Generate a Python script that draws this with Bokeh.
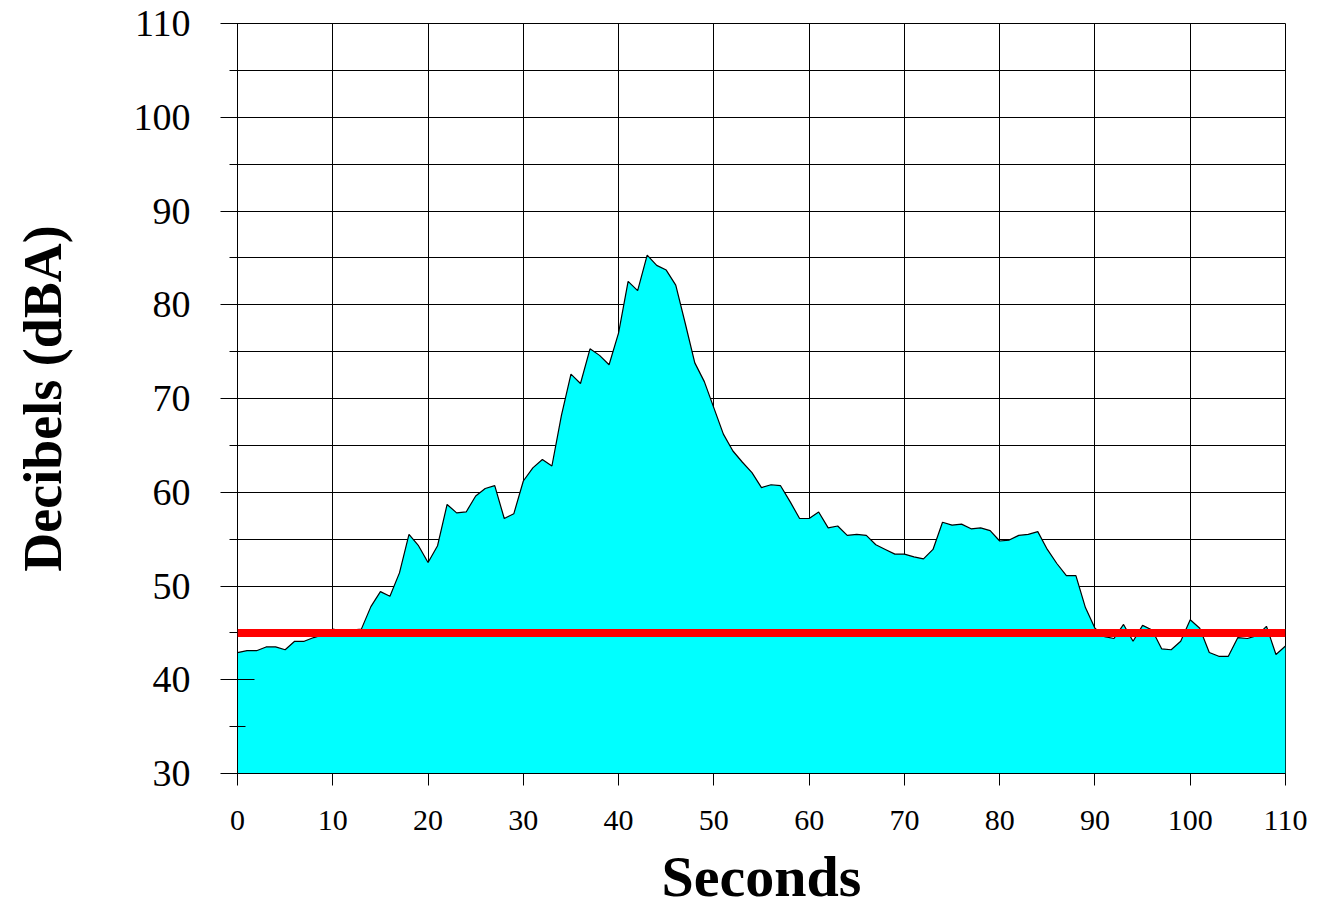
from bokeh.plotting import figure
from bokeh.models import Span, SingleIntervalTicker, FixedTicker, Range1d
from bokeh.embed import file_html
from bokeh.resources import INLINE

# ---- data ----
seconds = list(range(0, 111))
decibels = [
    42.9, 43.1, 43.1, 43.5, 43.5, 43.2, 44.1, 44.1, 44.5, 44.8,
    45.4, 45.2, 45.3, 45.4, 47.8, 49.4, 48.9, 51.4, 55.5, 54.3,
    52.5, 54.3, 58.7, 57.8, 57.9, 59.6, 60.4, 60.7, 57.2, 57.7,
    61.2, 62.6, 63.5, 62.8, 68.2, 72.6, 71.6, 75.3, 74.6, 73.6,
    77.0, 82.5, 81.5, 85.3, 84.2, 83.7, 82.1, 78.0, 73.8, 71.8,
    69.0, 66.2, 64.4, 63.2, 62.1, 60.5, 60.8, 60.7, 59.0, 57.2,
    57.2, 57.9, 56.2, 56.4, 55.4, 55.5, 55.4, 54.4, 53.9, 53.4,
    53.4, 53.1, 52.9, 53.9, 56.8, 56.5, 56.6, 56.1, 56.2, 55.9,
    54.8, 54.9, 55.4, 55.5, 55.8, 53.9, 52.4, 51.1, 51.1, 47.7,
    45.5, 44.6, 44.4, 45.9, 44.1, 45.8, 45.3, 43.3, 43.2, 44.1,
    46.4, 45.5, 42.9, 42.5, 42.5, 44.5, 44.4, 44.7, 45.7, 42.7,
    43.6,
]
threshold = 45
x_ticks = [0, 10, 20, 30, 40, 50, 60, 70, 80, 90, 100, 110]
y_min, y_max = 30, 110
x_min, x_max = 0, 110
x_title = "Seconds"
y_title = "Decibels (dBA)"

SERIF = "Liberation Serif"

p = figure(
    frame_width=1048, frame_height=750,
    x_range=Range1d(x_min, x_max), y_range=Range1d(y_min, y_max),
    output_backend="svg", toolbar_location=None,
    min_border_left=237, min_border_top=23, min_border_right=43, min_border_bottom=10,
    background_fill_color="white", border_fill_color="white",
)
p.outline_line_color = "black"
p.outline_line_width = 1

# area + outline
p.varea(x=seconds, y1=y_min, y2=decibels, fill_color="#00FFFF", fill_alpha=1.0)
p.line(x=seconds, y=decibels, line_color="black", line_width=1.2)

# threshold line
p.add_layout(Span(location=threshold, dimension="width", line_color="#FF0000", line_width=8))

# grids
p.xgrid.ticker = FixedTicker(ticks=x_ticks)
p.xgrid.grid_line_color = "black"
p.xgrid.grid_line_width = 1
p.xgrid.grid_line_alpha = 1.0
p.ygrid.ticker = SingleIntervalTicker(interval=10, num_minor_ticks=2)
p.ygrid.grid_line_color = "black"
p.ygrid.grid_line_width = 1
p.ygrid.minor_grid_line_color = "black"
p.ygrid.minor_grid_line_width = 1

# x axis
xa = p.xaxis[0]
xa.ticker = FixedTicker(ticks=x_ticks)
xa.axis_line_color = "black"
xa.major_tick_line_color = "black"
xa.major_tick_out = 12
xa.major_tick_in = 0
xa.minor_tick_line_color = None
xa.major_label_text_font = SERIF
xa.major_label_text_font_size = "30px"
xa.major_label_text_color = "black"
xa.major_label_standoff = 25
xa.axis_label = x_title
xa.axis_label_text_font = SERIF
xa.axis_label_text_font_style = "bold"
xa.axis_label_text_font_size = "58px"
xa.axis_label_text_line_height = 0.8
xa.axis_label_text_color = "black"
xa.axis_label_standoff = 11

# y axis
ya = p.yaxis[0]
ya.ticker = SingleIntervalTicker(interval=10, num_minor_ticks=2)
ya.axis_line_color = "black"
ya.major_tick_line_color = "black"
ya.major_tick_out = 17
ya.major_tick_in = 17
ya.minor_tick_line_color = "black"
ya.minor_tick_out = 8
ya.minor_tick_in = 8
ya.major_label_text_font = SERIF
ya.major_label_text_font_size = "38px"
ya.major_label_text_color = "black"
ya.major_label_standoff = 30
ya.axis_label = y_title
ya.axis_label_text_font = SERIF
ya.axis_label_text_font_style = "bold"
ya.axis_label_text_font_size = "54px"
ya.axis_label_text_color = "black"
ya.axis_label_standoff = 58

open("out.html", "w").write(file_html(p, INLINE))
